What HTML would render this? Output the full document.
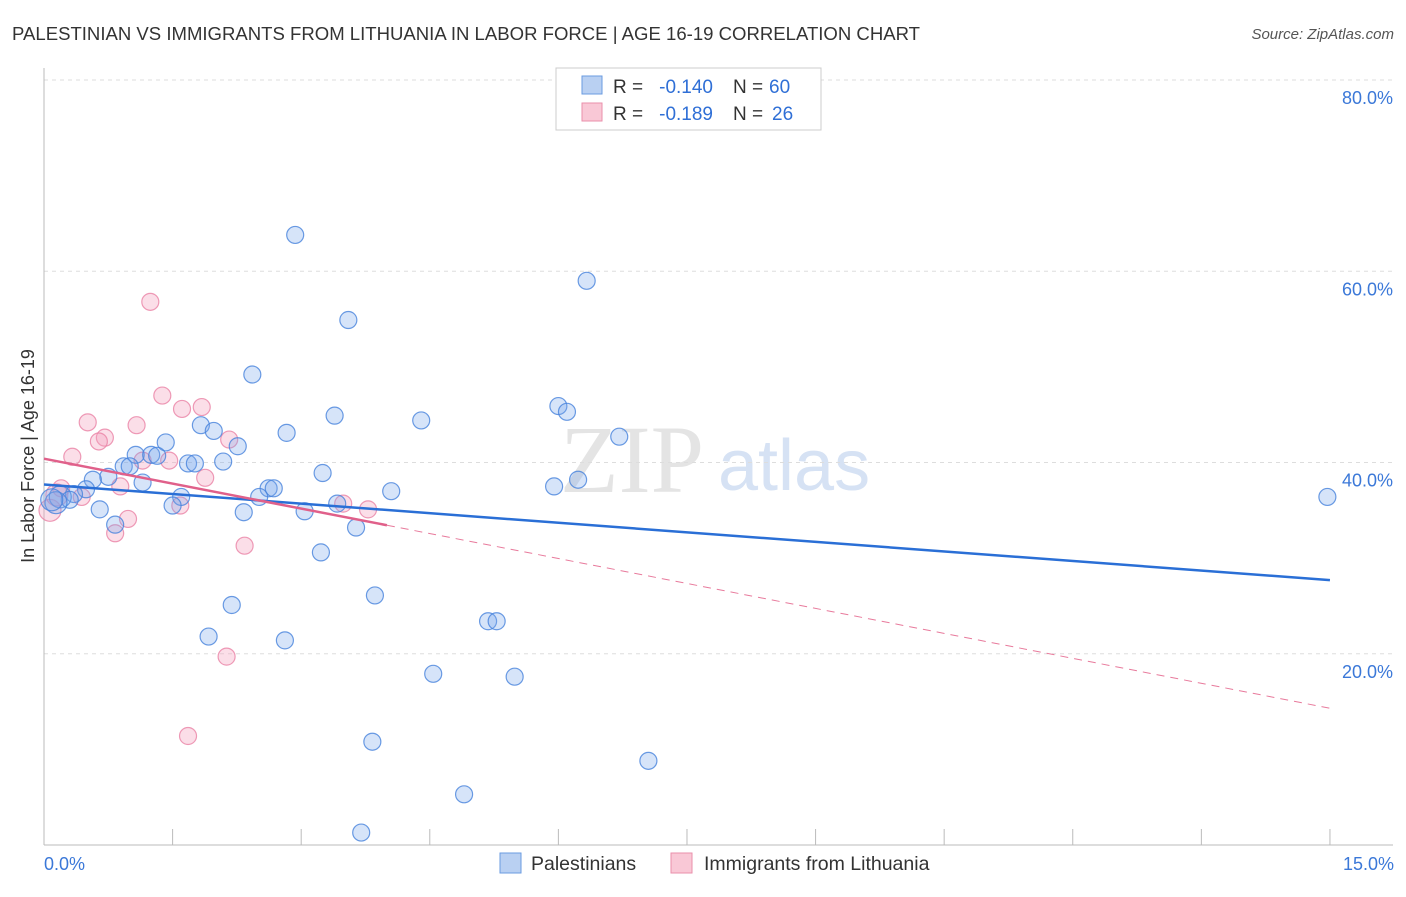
<!DOCTYPE html>
<html><head><meta charset="utf-8"><style>
body{margin:0;background:#fff;font-family:"Liberation Sans",sans-serif;}
</style></head><body>
<svg width="1406" height="892" xmlns="http://www.w3.org/2000/svg" font-family="Liberation Sans, sans-serif">
<text x="12" y="40" font-size="18" fill="#333" textLength="908" lengthAdjust="spacingAndGlyphs">PALESTINIAN VS IMMIGRANTS FROM LITHUANIA IN LABOR FORCE | AGE 16-19 CORRELATION CHART</text>
<text x="1394" y="39" font-size="15" fill="#555" font-style="italic" text-anchor="end">Source: ZipAtlas.com</text>
<text transform="translate(34,456) rotate(-90)" font-size="18" fill="#333" text-anchor="middle">In Labor Force | Age 16-19</text>
<text x="560" y="492" font-size="96" fill="#e4e4e4" font-family="Liberation Serif, serif">ZIP</text>
<text x="718" y="490" font-size="72" fill="#d6e2f4">atlas</text>
<g id="grid"></g><g id="axes"></g><g id="pts"></g><g id="lines"></g>
<g>
<rect x="556" y="68" width="265" height="62" fill="#fff" stroke="#ccc"/>
<rect x="582" y="76" width="20" height="18" fill="#b9d0f2" stroke="#6a9be0"/>
<rect x="582" y="103" width="20" height="18" fill="#f9c8d6" stroke="#ea8fab"/>
<text x="613" y="93" font-size="19" fill="#333">R =</text>
<text x="713" y="93" font-size="19" fill="#2f6fd6" text-anchor="end">-0.140</text>
<text x="733" y="93" font-size="19" fill="#333">N =</text>
<text x="769" y="93" font-size="19" fill="#2f6fd6">60</text>
<text x="613" y="120" font-size="19" fill="#333">R =</text>
<text x="713" y="120" font-size="19" fill="#2f6fd6" text-anchor="end">-0.189</text>
<text x="733" y="120" font-size="19" fill="#333">N =</text>
<text x="772" y="120" font-size="19" fill="#2f6fd6">26</text>
</g>
<g>
<rect x="500" y="853" width="21" height="20" fill="#b9d0f2" stroke="#6a9be0"/>
<text x="531" y="870" font-size="19.5" fill="#333">Palestinians</text>
<rect x="671" y="853" width="21" height="20" fill="#f9c8d6" stroke="#ea8fab"/>
<text x="704" y="870" font-size="19.5" fill="#333">Immigrants from Lithuania</text>
</g>
<text x="44" y="870" font-size="18" fill="#3b78d8">0.0%</text>
<text x="1394" y="870" font-size="18" fill="#3b78d8" text-anchor="end">15.0%</text>
</svg>
<script>
const yTicks=[20,40,60,80];
const xTickVals=[0,1.5,3,4.5,6,7.5,9,10.5,12,13.5,15];
const bluePx=[[295,235],[587,281],[348,320],[252,375],[335,416],[421,420],[558,406],[567,412],[201,425],[214,431],[287,433],[619,437],[166,442],[238,446],[136,455],[151,455],[157,456],[124,466],[130,466],[188,463],[195,463],[223,462],[323,473],[108,477],[93,480],[143,483],[554,486],[578,480],[391,491],[269,488],[274,488],[181,497],[259,497],[86,489],[74,494],[60,497],[70,500],[56,503],[173,506],[100,509],[337,504],[244,512],[305,511],[356,528],[115,525],[321,552],[375,595],[232,605],[488,621],[497,621],[209,637],[285,640],[433,674],[515,677],[372,742],[648,761],[464,794],[361,833],[1327,497],[52,500]];
const pinkPx=[[150,302],[162,396],[182,409],[202,407],[88,422],[137,425],[105,438],[99,441],[229,440],[72,457],[143,461],[169,461],[120,486],[205,478],[61,488],[82,497],[180,506],[128,519],[115,533],[245,546],[343,504],[368,509],[227,657],[188,736],[50,510],[57,495]];
const blueX=bluePx.map(p=>+((p[0]-44)/85.73).toFixed(2));
const blueY=bluePx.map(p=>+((845-p[1])/9.5625).toFixed(1));
const pinkX=pinkPx.map(p=>+((p[0]-44)/85.73).toFixed(2));
const pinkY=pinkPx.map(p=>+((845-p[1])/9.5625).toFixed(1));
const blueTrend=[37.7,27.7];
const pinkTrend=[40.4,14.3];
const pinkSolidEnd=4.0;
const X=v=>44+v*85.73, Y=v=>845-v*9.5625;
const NS="http://www.w3.org/2000/svg";
function mk(t,a,parent){const e=document.createElementNS(NS,t);for(const k in a)e.setAttribute(k,a[k]);document.getElementById(parent).appendChild(e);return e;}
yTicks.forEach(t=>{
 const l=mk('line',{x1:44,x2:1393,y1:Y(t),y2:Y(t),stroke:'#ddd','stroke-dasharray':'4,4'},'grid');
 
 
 const tx=mk('text',{x:1393,y:Y(t)+24,'font-size':18,fill:'#3b78d8','text-anchor':'end'},'grid');
 tx.textContent=t.toFixed(1)+'%';
 
 
});
const ax=mk('line',{x1:44,x2:44,y1:68,y2:845,stroke:'#bbb'},'axes');


const bx=mk('line',{x1:44,x2:1393,y1:845,y2:845,stroke:'#bbb'},'axes');


xTickVals.forEach(t=>{
 const l=mk('line',{x1:X(t),x2:X(t),y1:829,y2:845,stroke:'#bbb'},'axes');
 
 
});
function pts(xs,ys,fill,stroke,name){
 xs.forEach((x,i)=>{
  const c=mk('circle',{cx:X(x),cy:Y(ys[i]),r:(x<0.2?11:8.5),fill:fill,stroke:stroke,'stroke-width':1.2},'pts');
  
  
 });
}
pts(pinkX,pinkY,'rgba(244,160,188,0.35)','rgba(234,130,165,0.8)','lithuania-point');
pts(blueX,blueY,'rgba(120,165,235,0.3)','rgba(70,130,220,0.8)','palestinian-point');
const bl=mk('line',{x1:X(0),y1:Y(blueTrend[0]),x2:X(15),y2:Y(blueTrend[1]),stroke:'#2a6fd6','stroke-width':2.5},'lines');


const pAt=x=>pinkTrend[0]+(pinkTrend[1]-pinkTrend[0])*x/15;
const pl=mk('line',{x1:X(0),y1:Y(pinkTrend[0]),x2:X(pinkSolidEnd),y2:Y(pAt(pinkSolidEnd)),stroke:'#e0608a','stroke-width':2.5},'lines');


const pd=mk('line',{x1:X(pinkSolidEnd),y1:Y(pAt(pinkSolidEnd)),x2:X(15),y2:Y(pinkTrend[1]),stroke:'#e87a9c','stroke-width':1,'stroke-dasharray':'8,6'},'lines');


</script>
</body></html>
